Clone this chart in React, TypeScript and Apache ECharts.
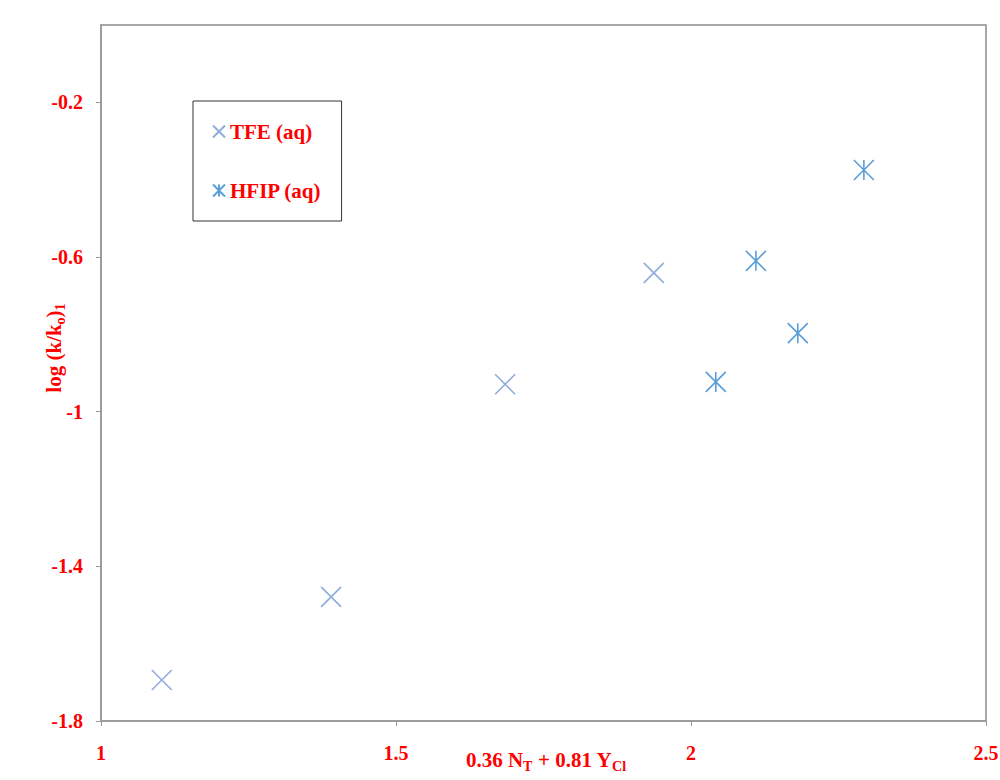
import React, { useEffect, useRef } from "react";
import * as echarts from "echarts";

const tfeX = [1.103, 1.39, 1.685, 1.937];
const tfeY = [-1.694, -1.479, -0.929, -0.641];
const hfipX = [2.042, 2.11, 2.181, 2.293];
const hfipY = [-0.923, -0.61, -0.797, -0.375];
const yTicks = [-1.8, -1.4, -1, -0.6, -0.2];
const seriesNames = ["TFE (aq)", "HFIP (aq)"];
const xTitle = "{b|0.36 N}{s|T}{b| + 0.81 Y}{s|Cl}";
const yTitle = "{b|log (k/k}{s|o}{b|)}{s|1}";

const FONT = "'Liberation Serif', 'Times New Roman', serif";
const RED = "#ff0000";

const richStyles = {
  b: { fill: RED, fontWeight: "bold", fontSize: 21, fontFamily: FONT },
  s: {
    fill: RED,
    fontWeight: "bold",
    fontSize: 14,
    fontFamily: FONT,
    verticalAlign: "bottom",
    padding: [12, 0, 0, 0],
  },
};

export default function App() {
  const ref = useRef<HTMLDivElement>(null);
  useEffect(() => {
    if (!ref.current) return;
    const chart = echarts.init(ref.current, null, { renderer: "svg" });
    const crossPath = "path://M0 0L10 10M10 0L0 10";
    const starPath = "path://M0 0L10 10M10 0L0 10M5 0L5 10";
    chart.setOption({
      animation: false,
      backgroundColor: "#ffffff",
      grid: {
        left: 101,
        top: 25,
        right: 14,
        bottom: 59,
        containLabel: false,
        outerBoundsMode: "none",
        show: true,
        borderColor: "#8c8c8c",
        borderWidth: 1.5,
        backgroundColor: "transparent",
      },
      legend: {
        orient: "vertical",
        left: 193,
        top: 101,
        padding: [20, 20, 20, 19],
        itemGap: 38,
        itemWidth: 12,
        itemHeight: 12,
        borderColor: "#333333",
        borderWidth: 1,
        backgroundColor: "#ffffff",
        data: seriesNames,
        textStyle: {
          color: RED,
          fontWeight: "bold",
          fontSize: 21,
          fontFamily: FONT,
        },
      },
      graphic: [
        {
          type: "text",
          x: 54,
          y: 348,
          rotation: Math.PI / 2,
          style: {
            text: yTitle,
            fill: RED,
            rich: richStyles,
            align: "center",
            verticalAlign: "middle",
          },
        },
        {
          type: "text",
          x: 546,
          y: 760,
          style: {
            text: xTitle,
            fill: RED,
            rich: richStyles,
            align: "center",
            verticalAlign: "middle",
          },
        },
      ],
      xAxis: {
        type: "value",
        min: 1,
        max: 2.5,
        interval: 0.5,
        splitLine: { show: false },
        axisLine: { onZero: false, lineStyle: { color: "#999999", width: 1.5 } },
        axisTick: { length: 5, lineStyle: { color: "#999999" } },
        axisLabel: {
          color: RED,
          fontWeight: "bold",
          fontSize: 20,
          fontFamily: FONT,
          margin: 22,
        },
      },
      yAxis: {
        type: "value",
        min: -1.8,
        max: 0,
        splitLine: { show: false },
        axisLine: { onZero: false, lineStyle: { color: "#999999", width: 1.5 } },
        axisTick: {
          length: 5,
          lineStyle: { color: "#999999" },
          customValues: yTicks,
        },
        axisLabel: {
          color: RED,
          fontWeight: "bold",
          fontSize: 20,
          fontFamily: FONT,
          margin: 18,
          customValues: yTicks,
          formatter: (v: number) => String(Math.round(v * 10) / 10),
        },
      },
      series: [
        {
          name: seriesNames[0],
          type: "scatter",
          symbol: crossPath,
          symbolSize: 20,
          itemStyle: {
            color: "transparent",
            borderColor: "#6f99d3",
            borderWidth: 1.6,
          },
          data: tfeX.map((x, i) => [x, tfeY[i]]),
        },
        {
          name: seriesNames[1],
          type: "scatter",
          symbol: starPath,
          symbolSize: 20,
          itemStyle: {
            color: "transparent",
            borderColor: "#2f86cf",
            borderWidth: 1.6,
          },
          data: hfipX.map((x, i) => [x, hfipY[i]]),
        },
      ],
    });
    return () => chart.dispose();
  }, []);
  return (
    <div
      ref={ref}
      style={{ position: "absolute", left: 0, top: 0, width: 1000, height: 780 }}
    />
  );
}
